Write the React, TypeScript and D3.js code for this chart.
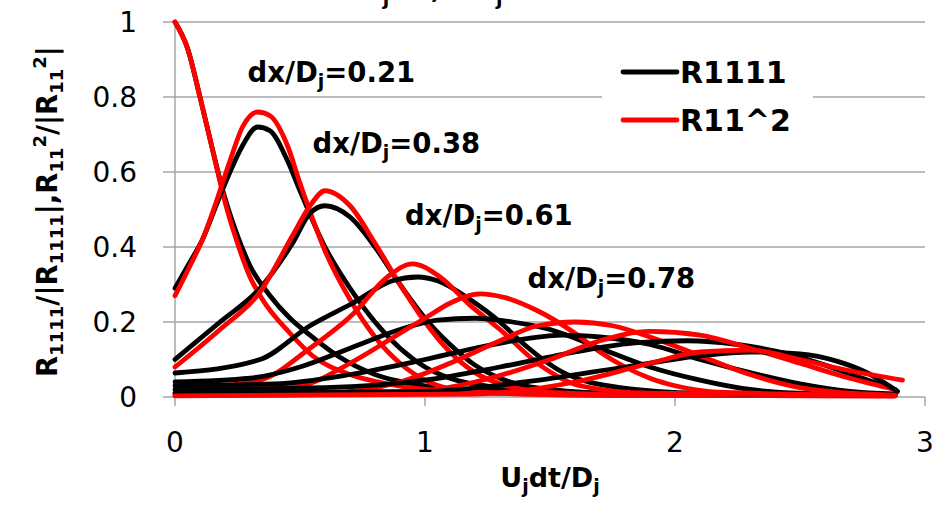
import * as d3 from "d3";

// ── Axis ticks ───────────────────────────────────────────────────────────────
const X_TICKS = [0, 1, 2, 3];
const Y_TICKS = [0, 0.2, 0.4, 0.6, 0.8, 1];

// ── Series: [Ujdt/Dj, value] ───────────────────────────────────────────────
type Pt = [number, number];

// dx/Dj = 0
const R1111_0: Pt[] = [[0, 1], [0.05, 0.93], [0.1, 0.8], [0.15, 0.66], [0.2, 0.53], [0.25, 0.43], [0.3, 0.35], [0.38, 0.27], [0.46, 0.21], [0.54, 0.165], [0.65, 0.11], [0.8, 0.06], [1.0, 0.03], [1.3, 0.015], [1.8, 0.008], [2.4, 0.005], [2.88, 0.004]];
const R11SQ_0: Pt[] = [[0, 1], [0.05, 0.93], [0.1, 0.8], [0.15, 0.66], [0.2, 0.52], [0.25, 0.41], [0.3, 0.32], [0.35, 0.26], [0.46, 0.17], [0.55, 0.11], [0.7, 0.06], [0.85, 0.035], [1.0, 0.02], [1.3, 0.01], [1.8, 0.005], [2.88, 0.003]];
// dx/Dj = 0.21
const R1111_1: Pt[] = [[0, 0.29], [0.06, 0.36], [0.11, 0.42], [0.17, 0.52], [0.22, 0.6], [0.27, 0.67], [0.33, 0.72], [0.38, 0.71], [0.45, 0.63], [0.5, 0.55], [0.6, 0.4], [0.7, 0.29], [0.8, 0.2], [0.9, 0.13], [1.0, 0.08], [1.1, 0.05], [1.3, 0.025], [1.6, 0.012], [2.2, 0.006], [2.88, 0.004]];
const R11SQ_1: Pt[] = [[0, 0.27], [0.06, 0.35], [0.11, 0.42], [0.17, 0.53], [0.22, 0.63], [0.27, 0.72], [0.33, 0.76], [0.38, 0.75], [0.45, 0.67], [0.5, 0.57], [0.6, 0.39], [0.7, 0.26], [0.8, 0.16], [0.9, 0.09], [1.0, 0.045], [1.1, 0.022], [1.3, 0.01], [1.8, 0.004], [2.88, 0.003]];
// dx/Dj = 0.38
const R1111_2: Pt[] = [[0, 0.1], [0.18, 0.2], [0.34, 0.29], [0.47, 0.41], [0.54, 0.49], [0.6, 0.51], [0.7, 0.48], [0.8, 0.4], [0.9, 0.3], [1.0, 0.21], [1.1, 0.14], [1.2, 0.085], [1.3, 0.05], [1.5, 0.02], [1.8, 0.008], [2.4, 0.005], [2.88, 0.004]];
const R11SQ_2: Pt[] = [[0, 0.08], [0.18, 0.18], [0.34, 0.28], [0.47, 0.43], [0.54, 0.51], [0.6, 0.55], [0.7, 0.51], [0.8, 0.41], [0.9, 0.3], [1.0, 0.2], [1.1, 0.12], [1.2, 0.065], [1.3, 0.035], [1.5, 0.012], [2.0, 0.004], [2.88, 0.003]];
// dx/Dj = 0.61
const R1111_3: Pt[] = [[0, 0.064], [0.34, 0.1], [0.54, 0.19], [0.71, 0.25], [0.87, 0.31], [0.97, 0.32], [1.05, 0.31], [1.18, 0.26], [1.3, 0.2], [1.38, 0.15], [1.54, 0.07], [1.78, 0.025], [2.1, 0.01], [2.88, 0.005]];
const R11SQ_3: Pt[] = [[0, 0.02], [0.34, 0.045], [0.54, 0.13], [0.71, 0.22], [0.85, 0.32], [0.95, 0.355], [1.06, 0.32], [1.18, 0.245], [1.3, 0.18], [1.46, 0.085], [1.62, 0.03], [1.9, 0.01], [2.88, 0.004]];
// dx/Dj = 0.78
const R1111_4: Pt[] = [[0, 0.04], [0.3, 0.05], [0.5, 0.08], [0.7, 0.13], [0.9, 0.18], [1.05, 0.205], [1.2, 0.21], [1.35, 0.2], [1.5, 0.18], [1.7, 0.13], [1.9, 0.08], [2.1, 0.045], [2.3, 0.02], [2.5, 0.01], [2.88, 0.006]];
const R11SQ_4: Pt[] = [[0, 0.01], [0.5, 0.03], [0.7, 0.09], [0.9, 0.17], [1.0, 0.21], [1.1, 0.25], [1.22, 0.275], [1.32, 0.265], [1.45, 0.23], [1.6, 0.17], [1.7, 0.12], [1.8, 0.08], [1.9, 0.05], [2.0, 0.03], [2.2, 0.012], [2.88, 0.004]];
// further separations
const R1111_5: Pt[] = [[0, 0.03], [0.4, 0.035], [0.7, 0.06], [1.0, 0.1], [1.2, 0.13], [1.4, 0.155], [1.55, 0.165], [1.7, 0.16], [1.9, 0.14], [2.1, 0.1], [2.3, 0.065], [2.5, 0.035], [2.7, 0.015], [2.88, 0.008]];
const R11SQ_5: Pt[] = [[0, 0.005], [0.6, 0.01], [0.9, 0.04], [1.1, 0.09], [1.3, 0.15], [1.45, 0.19], [1.6, 0.2], [1.75, 0.19], [1.9, 0.16], [2.1, 0.11], [2.3, 0.06], [2.5, 0.025], [2.7, 0.01], [2.88, 0.005]];
const R1111_6: Pt[] = [[0, 0.02], [0.6, 0.025], [1.0, 0.045], [1.3, 0.08], [1.6, 0.12], [1.85, 0.145], [2.05, 0.15], [2.25, 0.14], [2.45, 0.115], [2.6, 0.085], [2.75, 0.05], [2.88, 0.02]];
const R11SQ_6: Pt[] = [[0, 0.004], [0.9, 0.01], [1.2, 0.04], [1.5, 0.1], [1.7, 0.15], [1.9, 0.175], [2.1, 0.165], [2.3, 0.13], [2.5, 0.09], [2.7, 0.05], [2.88, 0.02]];
const R1111_7: Pt[] = [[0, 0.01], [1.0, 0.015], [1.4, 0.04], [1.8, 0.08], [2.1, 0.11], [2.3, 0.12], [2.5, 0.115], [2.65, 0.095], [2.77, 0.064], [2.89, 0.015]];
const R11SQ_7: Pt[] = [[0, 0.003], [1.2, 0.008], [1.6, 0.04], [1.9, 0.09], [2.1, 0.12], [2.3, 0.125], [2.5, 0.1], [2.7, 0.07], [2.91, 0.045]];

const PAIRS: [Pt[], Pt[]][] = [
  [R1111_0, R11SQ_0], [R1111_1, R11SQ_1], [R1111_2, R11SQ_2], [R1111_3, R11SQ_3],
  [R1111_4, R11SQ_4], [R1111_5, R11SQ_5], [R1111_6, R11SQ_6], [R1111_7, R11SQ_7],
];

const ANNOTATIONS = [
  { label: "0.21", x: 0.29, y: 0.84 },
  { label: "0.38", x: 0.55, y: 0.65 },
  { label: "0.61", x: 0.92, y: 0.46 },
  { label: "0.78", x: 1.41, y: 0.29 },
];

// ── Layout ───────────────────────────────────────────────────────────────────
const W = 935, H = 505;
const M = { left: 175, right: 10, top: 22, bottom: 108 };
const FONT = "'DejaVu Sans', sans-serif";
const GRID = "#A6A6A6";
const BLACK = "#000000";
const RED = "#FF0000";

export default function App() {
  const x = d3.scaleLinear().domain([0, 3]).range([M.left, W - M.right]);
  const y = d3.scaleLinear().domain([0, 1]).range([H - M.bottom, M.top]);
  const line = d3.line<Pt>().x((d) => x(d[0])).y((d) => y(d[1])).curve(d3.curveMonotoneX);

  return (
    <svg width={W} height={H} style={{ position: "absolute", left: 0, top: 0, background: "#fff" }}>
      {/* title, cut off at the top edge as in the source */}
      <text x={333} y={-2} fontFamily={FONT} fontWeight="bold" fontSize={27} fill="#000">
        x/D<tspan dy={7} fontSize={19}>j</tspan>
        <tspan dy={-7}>=5, r/D</tspan>
        <tspan dy={7} fontSize={19}>j</tspan>
      </text>

      {/* grid */}
      {Y_TICKS.filter((t) => t > 0).map((t) => (
        <line key={t} x1={x(0)} x2={x(3)} y1={y(t)} y2={y(t)} stroke={GRID} strokeWidth={1.5} />
      ))}
      {/* axes */}
      <line x1={x(0)} x2={x(0)} y1={y(0)} y2={y(1)} stroke={GRID} strokeWidth={1.5} />
      <line x1={x(0)} x2={x(3)} y1={y(0)} y2={y(0)} stroke={GRID} strokeWidth={1.5} />
      {Y_TICKS.map((t) => (
        <g key={t}>
          <line x1={x(0) - 12} x2={x(0)} y1={y(t)} y2={y(t)} stroke={GRID} strokeWidth={1.5} />
          <text x={137} y={y(t)} dy="0.36em" textAnchor="end" fontFamily={FONT} fontSize={28} fill="#000">
            {d3.format("~g")(t)}
          </text>
        </g>
      ))}
      {X_TICKS.map((t) => (
        <g key={t}>
          <line x1={x(t)} x2={x(t)} y1={y(0)} y2={y(0) + 9} stroke={GRID} strokeWidth={1.5} />
          <text x={x(t)} y={452} textAnchor="middle" fontFamily={FONT} fontSize={28} fill="#000">
            {t}
          </text>
        </g>
      ))}

      {/* legend box hides the grid */}
      <rect x={602} y={48} width={211} height={96} fill="#fff" />

      {/* series */}
      {PAIRS.map(([b, r], i) => (
        <g key={i} fill="none" strokeWidth={4.8} strokeLinejoin="round" strokeLinecap="round">
          <path d={line(b) ?? ""} stroke={BLACK} />
          <path d={line(r) ?? ""} stroke={RED} />
        </g>
      ))}

      {/* annotations */}
      {ANNOTATIONS.map((a) => (
        <text key={a.label} x={x(a.x)} y={y(a.y)} fontFamily={FONT} fontWeight="bold" fontSize={27.5} fill="#000">
          dx/D<tspan dy={6} fontSize={19}>j</tspan>
          <tspan dy={-6}>={a.label}</tspan>
        </text>
      ))}

      {/* legend */}
      <line x1={623} x2={677} y1={72} y2={72} stroke={BLACK} strokeWidth={4.8} strokeLinecap="round" />
      <text x={680} y={83} fontFamily={FONT} fontWeight="bold" fontSize={30} fill="#000">R1111</text>
      <line x1={623} x2={677} y1={120} y2={120} stroke={RED} strokeWidth={4.8} strokeLinecap="round" />
      <text x={680} y={131} fontFamily={FONT} fontWeight="bold" fontSize={30} fill="#000">R11^2</text>

      {/* axis titles */}
      <text x={550} y={487} textAnchor="middle" fontFamily={FONT} fontWeight="bold" fontSize={27} fill="#000">
        U<tspan dy={6} fontSize={19}>j</tspan>
        <tspan dy={-6}>dt/D</tspan>
        <tspan dy={6} fontSize={19}>j</tspan>
      </text>
      <text
        transform={`translate(57,${(y(0) + y(1)) / 2 + 2}) rotate(-90)`}
        textAnchor="middle" fontFamily={FONT} fontWeight="bold" fontSize={27.5} fill="#000"
      >
        R<tspan dy={6} fontSize={18}>1111</tspan>
        <tspan dy={-6}>/|R</tspan>
        <tspan dy={6} fontSize={18}>1111</tspan>
        <tspan dy={-6}>|,R</tspan>
        <tspan dy={6} fontSize={18}>11</tspan>
        <tspan dy={-17} fontSize={18}>2</tspan>
        <tspan dy={11}>/|R</tspan>
        <tspan dy={6} fontSize={18}>11</tspan>
        <tspan dy={-17} fontSize={18}>2</tspan>
        <tspan dy={11}>|</tspan>
      </text>
    </svg>
  );
}
